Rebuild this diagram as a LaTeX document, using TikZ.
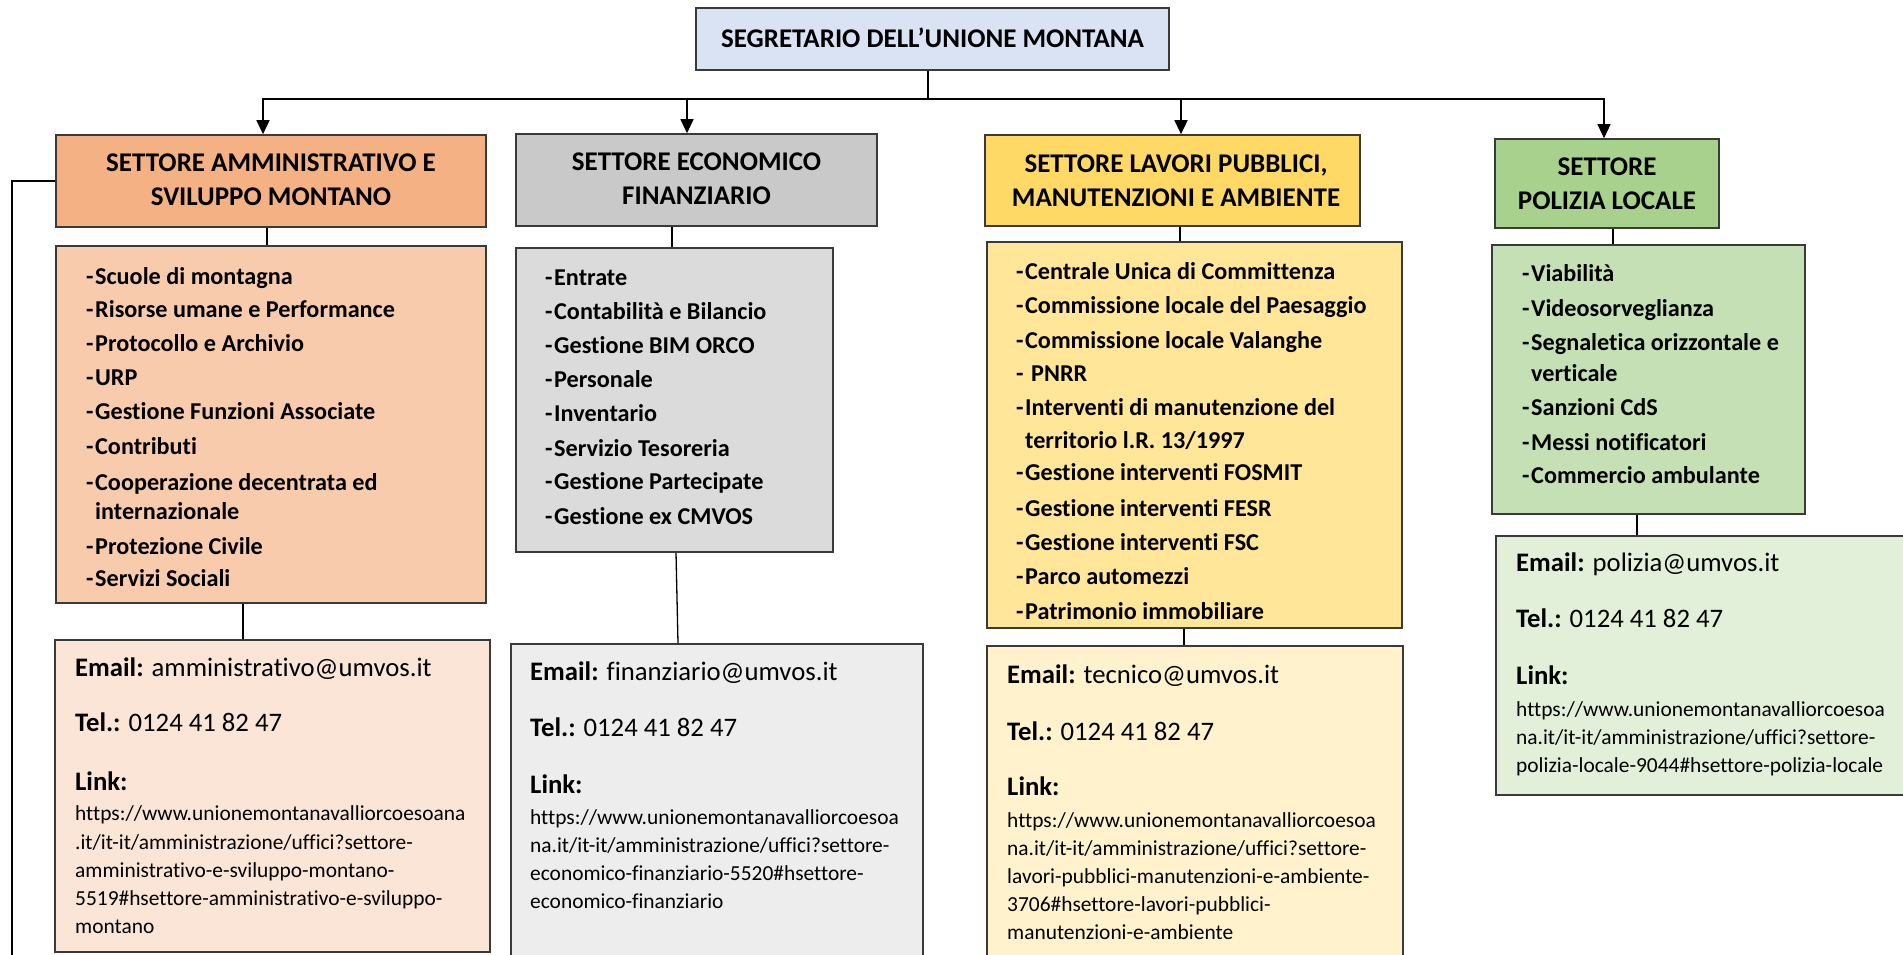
\documentclass[tikz,border=0pt]{standalone}
\usepackage{fontspec}
\setmainfont{Carlito}[Ligatures=NoCommon]
\usetikzlibrary{arrows.meta}
\definecolor{bordc}{HTML}{3A3A3A}
\definecolor{topc}{HTML}{DAE3F3}
\definecolor{orA}{HTML}{F4B183}
\definecolor{orB}{HTML}{F8CBAD}
\definecolor{orC}{HTML}{FBE5D6}
\definecolor{grA}{HTML}{C9C9C9}
\definecolor{grB}{HTML}{DBDBDB}
\definecolor{grC}{HTML}{EDEDED}
\definecolor{yeA}{HTML}{FFD966}
\definecolor{yeB}{HTML}{FFE699}
\definecolor{yeC}{HTML}{FFF2CC}
\definecolor{gnA}{HTML}{A9D18E}
\definecolor{gnB}{HTML}{C5E0B4}
\definecolor{gnC}{HTML}{E2F0D9}
\newcommand\lidash{\makebox[9pt][l]{-}}
\newcommand\liind{\hspace*{9pt}}
\newcommand\hfnt{\fontsize{27}{34}\selectfont\bfseries}
\newcommand\lfnt{\fontsize{24.2}{34}\selectfont\bfseries}
\newcommand\cfnt{\fontsize{26.7}{28}\selectfont}
\newcommand\ufnt{\fontsize{21.4}{28}\selectfont}
\tikzset{
  box/.style={draw=bordc, line width=1.6pt, fill=#1, inner sep=0pt},
  item/.style={anchor=west, inner sep=0pt, text height=16pt, text depth=0pt, font=\lfnt},
  citem/.style={anchor=west, inner sep=0pt, text height=17pt, text depth=0pt, font=\cfnt},
  uitem/.style={anchor=west, inner sep=0pt, text height=14pt, text depth=0pt, font=\ufnt},
  head/.style={align=center, font=\hfnt, inner sep=0pt},
  conn/.style={draw=black, line width=1.3pt},
  arr/.style={conn, -{Triangle[length=14pt,width=13pt]}}
}
\begin{document}
\begin{tikzpicture}[x=1pt,y=-1pt]
\useasboundingbox (0,0) rectangle (1903,955);
\clip (0,0) rectangle (1903,955);
\fill[white] (0,0) rectangle (1903,955);
% boxes
\node[box=topc, minimum width=473pt, minimum height=62pt] (top) at (932.5,39) {};
\node[font=\hfnt] (toptxt) at (932.5,38) {SEGRETARIO DELL’UNIONE MONTANA};
\node[box=orA, minimum width=430pt, minimum height=92pt] (h1) at (271,181) {};
\node[box=orB, minimum width=430pt, minimum height=357pt] (b1) at (271,424.5) {};
\node[box=orC, minimum width=435pt, minimum height=312pt] (c1) at (272.5,796) {};
\node[box=grA, minimum width=361pt, minimum height=92pt] (h2) at (696.5,180) {};
\node[box=grB, minimum width=317pt, minimum height=304pt] (b2) at (674.5,400) {};
\node[box=grC, minimum width=412pt, minimum height=356pt] (c2) at (717,822) {};
\node[box=yeA, minimum width=375pt, minimum height=91pt] (h3) at (1172.5,180.5) {};
\node[box=yeB, minimum width=415pt, minimum height=386pt] (b3) at (1194.5,435) {};
\node[box=yeC, minimum width=416pt, minimum height=354pt] (c3) at (1195,823) {};
\node[box=gnA, minimum width=224pt, minimum height=89pt] (h4) at (1607,183.5) {};
\node[box=gnB, minimum width=313pt, minimum height=269pt] (b4) at (1648.5,379.5) {};
\node[box=gnC, minimum width=424pt, minimum height=259pt] (c4) at (1708,665.5) {};
% header texts
\node[head] (h1t) at (271,180) {SETTORE AMMINISTRATIVO E\\SVILUPPO MONTANO};
\node[head] (h2t) at (696.5,179) {SETTORE ECONOMICO\\FINANZIARIO};
\node[head] (h3t) at (1176,181) {SETTORE LAVORI PUBBLICI,\\MANUTENZIONI E AMBIENTE};
\node[head] (h4t) at (1607,184) {SETTORE\\POLIZIA LOCALE};
% connectors
\coordinate (bus) at (928,99);
\draw[conn] (928,0 |- top.south) -- (bus);
\draw[arr] (bus) -| (263,0 |- h1.north);
\draw[arr] (bus) -| (687,0 |- h2.north);
\draw[arr] (bus) -| (1181,0 |- h3.north);
\draw[arr] (bus) -| (1604,0 |- h4.north);
\draw[conn] (267,0 |- h1.south) -- (267,0 |- b1.north);
\draw[conn] (243,0 |- b1.south) -- (243,0 |- c1.north);
\draw[conn] (672,0 |- h2.south) -- (672,0 |- b2.north);
\draw[conn] (676,0 |- b2.south) -- (678,0 |- c2.north);
\draw[conn] (1180,0 |- h3.south) -- (1180,0 |- b3.north);
\draw[conn] (1184,0 |- b3.south) -- (1184,0 |- c3.north);
\draw[conn] (1613,0 |- h4.south) -- (1613,0 |- b4.north);
\draw[conn] (1637,0 |- b4.south) -- (1637,0 |- c4.north);
\coordinate (brk) at (12,960);
\draw[conn] (h1.west) -- (12,0 |- h1.west) -- (brk);
% list items
\foreach \yy/\txt [count=\k] in {276/{\lidash Scuole di montagna}, 309/{\lidash Risorse umane e Performance}, 343/{\lidash Protocollo e Archivio}, 377/{\lidash URP}, 411/{\lidash Gestione Funzioni Associate}, 446/{\lidash Contributi}, 482/{\lidash Cooperazione decentrata ed}, 511/{\liind internazionale}, 546/{\lidash Protezione Civile}, 578/{\lidash Servizi Sociali}}
  \node[item] (ia\k) at (86,\yy) {\txt};
\foreach \yy/\txt [count=\k] in {277/{\lidash Entrate}, 311/{\lidash Contabilità e Bilancio}, 345/{\lidash Gestione BIM ORCO}, 379/{\lidash Personale}, 413/{\lidash Inventario}, 448/{\lidash Servizio Tesoreria}, 481/{\lidash Gestione Partecipate}, 516/{\lidash Gestione ex CMVOS}}
  \node[item] (ib\k) at (545,\yy) {\txt};
\foreach \yy/\txt [count=\k] in {271/{\lidash Centrale Unica di Committenza}, 305/{\lidash Commissione locale del Paesaggio}, 340/{\lidash Commissione locale Valanghe}, 373/{\lidash\hspace{6pt}PNRR}, 407/{\lidash Interventi di manutenzione del}, 440/{\liind territorio l.R. 13/1997}, 472/{\lidash Gestione interventi FOSMIT}, 508/{\lidash Gestione interventi FESR}, 542/{\lidash Gestione interventi FSC}, 576/{\lidash Parco automezzi}, 611/{\lidash Patrimonio immobiliare}}
  \node[item] (ic\k) at (1016,\yy) {\txt};
\foreach \yy/\txt [count=\k] in {273/{\lidash Viabilità}, 308/{\lidash Videosorveglianza}, 342/{\lidash Segnaletica orizzontale e}, 373/{\liind verticale}, 407/{\lidash Sanzioni CdS}, 442/{\lidash Messi notificatori}, 475/{\lidash Commercio ambulante}}
  \node[item] (id\k) at (1522,\yy) {\txt};
% contact box 1
\node[citem] (e1) at (75,668) {\textbf{Email:} amministrativo@umvos.it};
\node[citem] (t1) at (75,723) {\textbf{Tel.:} 0124 41 82 47};
\node[citem] (k1) at (75,782) {\textbf{Link:}};
\node[uitem] (u1a) at (75,813) {https://www.unionemontanavalliorcoesoana};
\node[uitem] (u1b) at (75,842) {.it/it-it/amministrazione/uffici?settore-};
\node[uitem] (u1c) at (75,870) {amministrativo-e-sviluppo-montano-};
\node[uitem] (u1d) at (75,898) {5519\#hsettore-amministrativo-e-sviluppo-};
\node[uitem] (u1e) at (75,926) {montano};
% contact box 2
\node[citem] (e2) at (530,672) {\textbf{Email:} finanziario@umvos.it};
\node[citem] (t2) at (530,728) {\textbf{Tel.:} 0124 41 82 47};
\node[citem] (k2) at (530,785) {\textbf{Link:}};
\node[uitem] (u2a) at (530,817) {https://www.unionemontanavalliorcoesoa};
\node[uitem] (u2b) at (530,845) {na.it/it-it/amministrazione/uffici?settore-};
\node[uitem] (u2c) at (530,873) {economico-finanziario-5520\#hsettore-};
\node[uitem] (u2d) at (530,901) {economico-finanziario};
% contact box 3
\node[citem] (e3) at (1007,675) {\textbf{Email:} tecnico@umvos.it};
\node[citem] (t3) at (1007,732) {\textbf{Tel.:} 0124 41 82 47};
\node[citem] (k3) at (1007,787) {\textbf{Link:}};
\node[uitem] (u3a) at (1007,820) {https://www.unionemontanavalliorcoesoa};
\node[uitem] (u3b) at (1007,848) {na.it/it-it/amministrazione/uffici?settore-};
\node[uitem] (u3c) at (1007,876) {lavori-pubblici-manutenzioni-e-ambiente-};
\node[uitem] (u3d) at (1007,904) {3706\#hsettore-lavori-pubblici-};
\node[uitem] (u3e) at (1007,932) {manutenzioni-e-ambiente};
% contact box 4
\node[citem] (e4) at (1516,563) {\textbf{Email:} polizia@umvos.it};
\node[citem] (t4) at (1516,619) {\textbf{Tel.:} 0124 41 82 47};
\node[citem] (k4) at (1516,676) {\textbf{Link:}};
\node[uitem] (u4a) at (1516,709) {https://www.unionemontanavalliorcoesoa};
\node[uitem] (u4b) at (1516,737) {na.it/it-it/amministrazione/uffici?settore-};
\node[uitem] (u4c) at (1516,765) {polizia-locale-9044\#hsettore-polizia-locale};
\end{tikzpicture}
\end{document}
